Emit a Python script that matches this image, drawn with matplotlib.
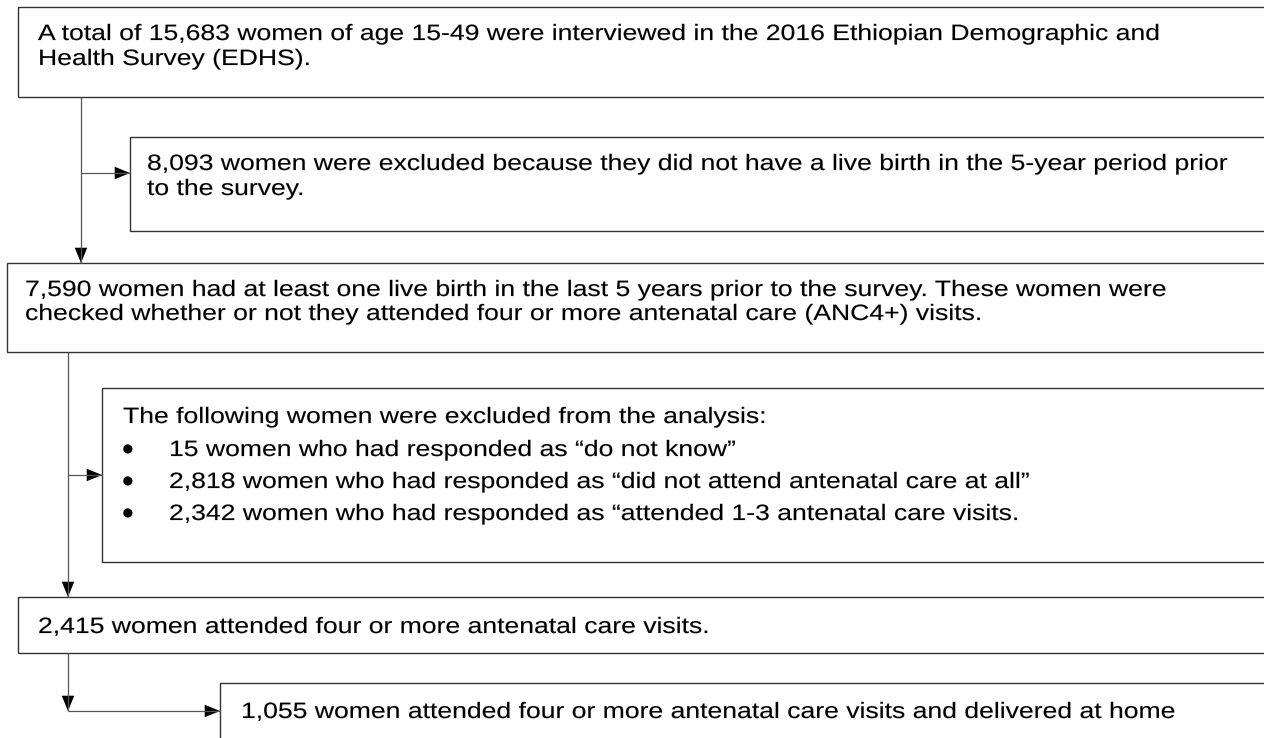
import matplotlib.pyplot as plt
from matplotlib.patches import Rectangle, FancyArrowPatch
from matplotlib.patheffects import AbstractPathEffect
from matplotlib.transforms import Affine2D

plt.rcParams['font.family'] = ['Liberation Sans', 'DejaVu Sans']

# counts from the flow diagram
n_total = 15683
n_no_birth = 8093
n_birth = 7590
n_dont_know = 15
n_no_anc = 2818
n_anc_1_3 = 2342
n_anc4 = 2415
n_home = 1055

box1_lines = [f"A total of {n_total:,} women of age 15-49 were interviewed in the 2016 Ethiopian Demographic and",
              "Health Survey (EDHS)."]
box2_lines = [f"{n_no_birth:,} women were excluded because they did not have a live birth in the 5-year period prior",
              "to the survey."]
box3_lines = [f"{n_birth:,} women had at least one live birth in the last 5 years prior to the survey. These women were",
              "checked whether or not they attended four or more antenatal care (ANC4+) visits."]
box4_head = "The following women were excluded from the analysis:"
box4_bullets = [f"{n_dont_know} women who had responded as \u201cdo not know\u201d",
                f"{n_no_anc:,} women who had responded as \u201cdid not attend antenatal care at all\u201d",
                f"{n_anc_1_3:,} women who had responded as \u201cattended 1-3 antenatal care visits."]
box5_lines = [f"{n_anc4:,} women attended four or more antenatal care visits."]
box6_lines = [f"{n_home:,} women attended four or more antenatal care visits and delivered at home"]

W, H = 1264, 738
fig = plt.figure(figsize=(W / 100, H / 100), dpi=100)
ax = fig.add_axes([0, 0, 1, 1])
ax.set_xlim(0, W)
ax.set_ylim(H, 0)
ax.axis('off')

FS = 16
SX = 1.195   # the source text is drawn wider than plain Arial
EDGE = '#333333'


class StretchX(AbstractPathEffect):
    """widen the glyphs horizontally around the text's left anchor"""
    def __init__(self, x0, sx):
        super().__init__()
        self.x0 = x0
        self.sx = sx

    def draw_path(self, renderer, gc, tpath, affine, rgbFace=None):
        x0 = ax.transData.transform((self.x0, 0))[0]
        t = affine + Affine2D().translate(-x0, 0).scale(self.sx, 1).translate(x0, 0)
        gc0 = renderer.new_gc()
        gc0.copy_properties(gc)
        gc0.set_linewidth(0.1)
        gc0.set_foreground(rgbFace)
        renderer.draw_path(gc0, tpath, t, rgbFace)
        gc0.restore()


# boxes: left, top, bottom (they run off the right edge)
boxes = {
    'b1': (18, 7, 97),
    'b2': (130, 137, 231),
    'b3': (7, 263, 352),
    'b4': (102, 388, 562),
    'b5': (18, 597, 653),
    'b6': (220, 683, 760),
}
for left, top, bottom in boxes.values():
    ax.add_patch(Rectangle((left, top), W + 50 - left, bottom - top,
                           fill=False, edgecolor=EDGE, lw=1.0))


def put(x, y, s, fs=FS, sx=SX):
    ax.text(x, y, s, fontsize=fs, va='baseline', ha='left', color='black',
            path_effects=[StretchX(x, sx)])


def put_lines(x, baselines, lines):
    for y, s in zip(baselines, lines):
        put(x, y, s)


put_lines(38, [40, 65], box1_lines)
put_lines(147, [170, 195], box2_lines)
put_lines(25, [296, 320], box3_lines)
put_lines(123, [423], [box4_head])
for y, s in zip([456, 488, 520], box4_bullets):
    put(122, y + 4, "\u2022", fs=24, sx=1.0)
    put(169, y, s)
put_lines(38, [633], box5_lines)
put_lines(241, [718], box6_lines)


def arrow(p0, p1):
    ax.plot([p0[0], p1[0]], [p0[1], p1[1]], color='#555555', lw=0.9, solid_capstyle='butt')
    a = FancyArrowPatch(p0, p1, arrowstyle='-|>,head_length=11,head_width=4.5',
                        mutation_scale=1, color='black', lw=0, shrinkA=0, shrinkB=0)
    ax.add_patch(a)


# box1 -> box3, branch to box2
arrow((81, 97), (81, 263))
arrow((81, 173), (130, 173))
# box3 -> box5, branch to box4
arrow((68, 352), (68, 597))
arrow((68, 475), (102, 475))
# box5 -> box6
arrow((68, 653), (68, 711))
arrow((68, 711), (220, 711))

fig.savefig('out.png', dpi=100)
